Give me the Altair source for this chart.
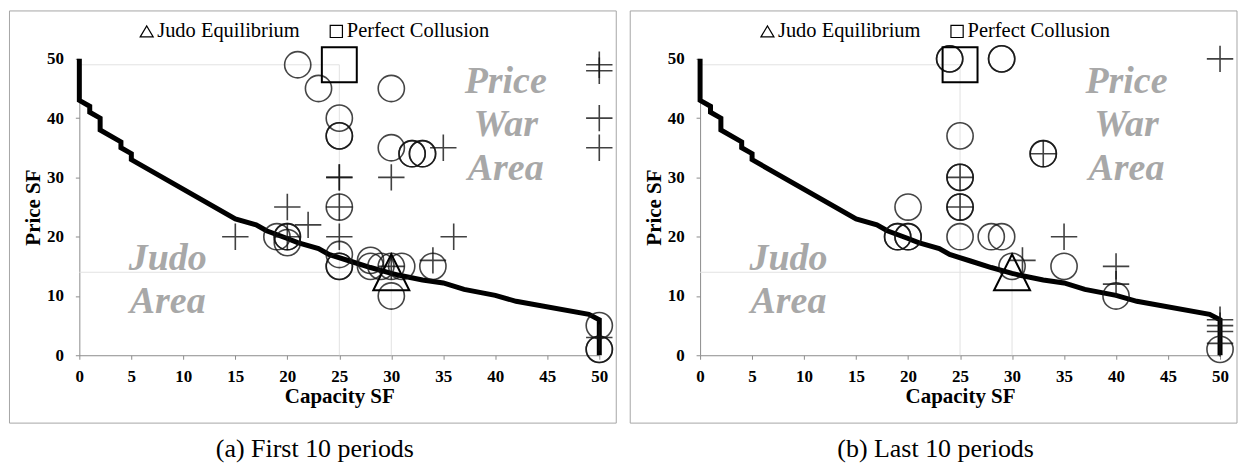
import altair as alt
import pandas as pd

# Judo boundary: for each capacity, the highest price that keeps the entrant small
curve_cap = [0, 0, 1, 1, 2, 2, 4, 4, 5, 5, 15, 17, 18, 20, 21, 23, 24, 26, 28, 30, 31, 33, 35, 37, 40, 42, 49, 50, 50]
curve_price = [50, 43, 42, 41, 40, 38, 36, 35, 34, 33, 23, 22, 21, 19.7, 19, 18, 17, 15.9, 14.8, 13.8, 13.4, 12.7, 12.2, 11.1, 10.1, 9.1, 6.9, 6, 0]

# Reference outcomes (capacity, price)
judo_eq = (30, 14)
collusion = (25, 49)

# First 10 periods: circles and crosses are the two player roles
first_circle_cap = [21, 23, 25, 25, 25, 30, 30, 32, 32, 33, 33, 25, 19, 20, 20, 20, 25, 25, 25, 28, 28, 29, 30, 31, 30, 34, 50, 50, 50]
first_circle_price = [49, 45, 40, 37, 37, 45, 35, 34, 34, 34, 34, 25, 20, 20, 20, 19, 17, 15, 15, 16, 15, 15, 15, 15, 10, 15, 5, 1, 1]
first_plus_cap = [50, 50, 50, 50, 35, 25, 25, 30, 25, 20, 22, 15, 20, 25, 36, 34, 30, 50]
first_plus_price = [49, 48, 40, 35, 35, 30, 30, 30, 25, 25, 22, 20, 20, 20, 20, 16, 15, 3]

# Last 10 periods
last_circle_cap = [24, 24, 29, 29, 25, 33, 33, 25, 25, 25, 25, 20, 19, 19, 20, 20, 25, 28, 29, 30, 35, 40, 50]
last_circle_price = [50, 50, 50, 50, 37, 34, 34, 30, 30, 25, 25, 25, 20, 20, 20, 20, 20, 20, 20, 15, 15, 10, 1]
last_plus_cap = [50, 33, 25, 25, 35, 31, 40, 40, 50, 50, 50, 50]
last_plus_price = [50, 34, 30, 25, 20, 16, 15, 12, 6, 5, 4, 2]

axis_ticks = list(range(0, 51, 5))

SERIF = "'Liberation Serif', 'Times New Roman', Times, serif"
INK = "#111111"
AREA_GREY = "#a8a8a8"
PLUS = "M-1,0L1,0M0,-1L0,1"
TRIANGLE = "M-1,1L0,-1L1,1Z"
SMALL_TRIANGLE = "M-1,0.85L0,-0.85L1,0.85Z"
ONE = alt.Data(values=[{}])


def panel(circ_x, circ_y, plus_x, plus_y, caption):
    xs = alt.Scale(domain=[0, 50], nice=False, zero=False)
    ys = alt.Scale(domain=[0, 50], nice=False, zero=False)
    x_axis = alt.Axis(title="Capacity SF", values=axis_ticks, labelPadding=9, titlePadding=1,
                      labelFlush=False, labelOverlap=False)
    y_axis = alt.Axis(title="Price SF", values=axis_ticks, labelPadding=12, titlePadding=3,
                      labelFlush=False, labelOverlap=False)

    guides = pd.DataFrame({
        "x": [0, collusion[0], 0, judo_eq[0]],
        "x2": [collusion[0], collusion[0], judo_eq[0], judo_eq[0]],
        "y": [collusion[1], 0, judo_eq[1], 0],
        "y2": [collusion[1], collusion[1], judo_eq[1], judo_eq[1]],
    })
    guide_layer = alt.Chart(guides).mark_rule(color="#e2e2e2", strokeWidth=1).encode(
        x=alt.X("x:Q", scale=xs, axis=x_axis),
        x2="x2:Q",
        y=alt.Y("y:Q", scale=ys, axis=y_axis),
        y2="y2:Q",
    )

    curve_df = pd.DataFrame({"cap": curve_cap, "price": curve_price, "step": list(range(len(curve_cap)))})
    curve = alt.Chart(curve_df).mark_line(color="black", strokeWidth=5).encode(
        x="cap:Q", y="price:Q", order="step:Q"
    )

    circles = alt.Chart(pd.DataFrame({"cap": circ_x, "price": circ_y})).mark_point(
        shape="circle", size=690, filled=False, color=INK, strokeWidth=1.6, opacity=1,
        strokeOpacity=0.78, clip=False
    ).encode(x="cap:Q", y="price:Q")

    pluses = alt.Chart(pd.DataFrame({"cap": plus_x, "price": plus_y})).mark_point(
        shape=PLUS, size=700, filled=False, color=INK, strokeWidth=1.6, opacity=1,
        strokeOpacity=0.8, clip=False
    ).encode(x="cap:Q", y="price:Q")

    ref = pd.DataFrame({"cap": [collusion[0]], "price": [collusion[1]]})
    square = alt.Chart(ref).mark_point(
        shape="square", size=1225, filled=False, color="black", strokeWidth=2, opacity=1
    ).encode(x="cap:Q", y="price:Q")

    ref_j = pd.DataFrame({"cap": [judo_eq[0]], "price": [judo_eq[1]]})
    triangle = alt.Chart(ref_j).mark_point(
        shape=TRIANGLE, size=1300, filled=False, color="black", strokeWidth=2, opacity=1
    ).encode(x="cap:Q", y="price:Q")

    def area_word(word, x, y):
        return alt.Chart(ONE).mark_text(
            font=SERIF, fontSize=38, fontStyle="italic", fontWeight="bold",
            color=AREA_GREY, align="center", baseline="alphabetic"
        ).encode(x=alt.datum(x), y=alt.datum(y), text=alt.value(word))

    words = [
        area_word("Price", 41, 44.3),
        area_word("War", 41, 37.0),
        area_word("Area", 41, 29.6),
        area_word("Judo", 8.5, 14.4),
        area_word("Area", 8.5, 7.1),
    ]

    key_tri = alt.Chart(ONE).mark_point(
        shape=SMALL_TRIANGLE, size=169, filled=False, color="black", strokeWidth=1.2, opacity=1
    ).encode(x=alt.value(67.5), y=alt.value(-27.5))
    key_sq = alt.Chart(ONE).mark_point(
        shape="square", size=150, filled=False, color="black", strokeWidth=1.2, opacity=1
    ).encode(x=alt.value(257.5), y=alt.value(-27.5))
    key_text = [
        alt.Chart(ONE).mark_text(font=SERIF, fontSize=20.5, color="black", align="left", baseline="alphabetic")
        .encode(x=alt.value(x), y=alt.value(-22), text=alt.value(t))
        for x, t in [(78, "Judo Equilibrium"), (268, "Perfect Collusion")]
    ]

    frame = alt.Chart(ONE).mark_rect(fill="transparent", stroke="#a6a6a6", strokeWidth=1).encode(
        x=alt.value(-70), x2=alt.value(538), y=alt.value(-48), y2=alt.value(365)
    )

    cap_text = alt.Chart(ONE).mark_text(
        font=SERIF, fontSize=26, color="black", align="center", baseline="alphabetic"
    ).encode(x=alt.value(236), y=alt.value(399), text=alt.value(caption))

    return alt.layer(
        guide_layer, curve, circles, pluses, square, triangle, *words,
        key_tri, key_sq, *key_text, frame, cap_text
    ).properties(width=521, height=297)


left = panel(first_circle_cap, first_circle_price, first_plus_cap, first_plus_price, "(a) First 10 periods")
right = panel(last_circle_cap, last_circle_price, last_plus_cap, last_plus_price, "(b) Last 10 periods")

chart = alt.hconcat(left, right, spacing=12).properties(
    padding={"left": 8.5, "top": 9.5, "right": 0, "bottom": 0},
    background="white",
).configure_view(stroke="transparent").configure_axis(
    grid=False,
    domainColor="#8c8c8c",
    tickColor="#8c8c8c",
    tickSize=4,
    labelFont=SERIF,
    labelFontSize=17,
    labelFontWeight="bold",
    labelColor="black",
    titleFont=SERIF,
    titleFontSize=21,
    titleFontWeight="bold",
    titleColor="black",
)

chart.save("out.html", embed_options={"renderer": "svg", "actions": False})
